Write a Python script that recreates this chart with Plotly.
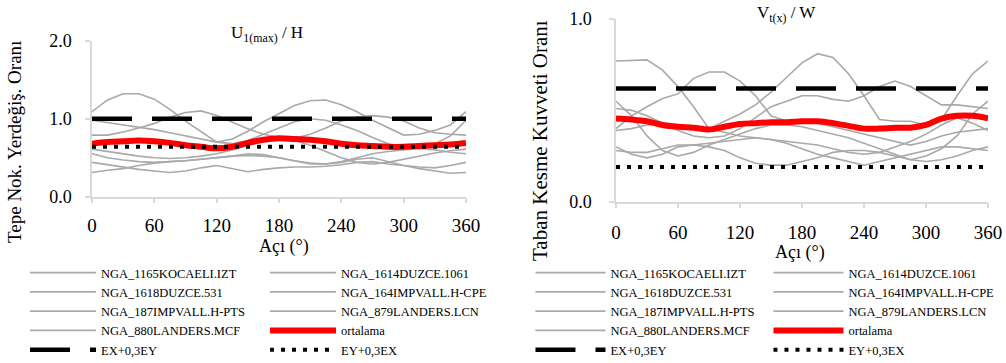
import plotly.graph_objects as go

W, H = 1006, 363
ML = 40  # left margin (px)
GW = W - ML

def px(x):
    return (x - ML) / GW

def py(y):
    return 1 - y / H

# ---------------- data ----------------
angles = [0, 15, 30, 45, 60, 75, 90, 105, 120, 135, 150, 165, 180,
          195, 210, 225, 240, 255, 270, 285, 300, 315, 330, 345, 360]

record_names = ["NGA_1165KOCAELI.IZT", "NGA_1614DUZCE.1061", "NGA_1618DUZCE.531",
                "NGA_164IMPVALL.H-CPE", "NGA_187IMPVALL.H-PTS", "NGA_879LANDERS.LCN",
                "NGA_880LANDERS.MCF"]

# Left panel: U1(max)/H
u_1165 = [1.09, 1.24, 1.32, 1.32, 1.25, 1.12, 0.97, 0.83, 0.70, 0.74, 0.84, 0.96, 1.07,
          1.17, 1.23, 1.24, 1.18, 1.09, 0.98, 0.88, 0.79, 0.80, 0.85, 0.92, 1.09]
u_1614 = [0.79, 0.79, 0.83, 0.88, 0.94, 1.02, 1.08, 1.10, 1.04, 0.95, 0.87, 0.80, 0.76,
          0.75, 0.80, 0.88, 0.97, 1.02, 1.04, 1.02, 0.97, 0.88, 0.82, 0.80, 0.79]
u_1618 = [0.61, 0.58, 0.55, 0.52, 0.50, 0.49, 0.50, 0.52, 0.55, 0.60, 0.66, 0.72, 0.75,
          0.72, 0.66, 0.58, 0.50, 0.44, 0.42, 0.44, 0.48, 0.52, 0.56, 0.59, 0.61]
u_164 = [0.55, 0.50, 0.47, 0.45, 0.44, 0.45, 0.46, 0.48, 0.50, 0.52, 0.53, 0.52, 0.50,
         0.46, 0.42, 0.42, 0.45, 0.50, 0.55, 0.58, 0.60, 0.62, 0.60, 0.57, 0.55]
u_187 = [0.44, 0.41, 0.38, 0.35, 0.33, 0.31, 0.33, 0.37, 0.40, 0.36, 0.32, 0.35, 0.37,
         0.38, 0.38, 0.39, 0.41, 0.44, 0.45, 0.42, 0.40, 0.38, 0.37, 0.40, 0.44]
u_879 = [0.31, 0.34, 0.36, 0.40, 0.43, 0.45, 0.46, 0.48, 0.50, 0.52, 0.55, 0.54, 0.50,
         0.46, 0.43, 0.42, 0.44, 0.48, 0.50, 0.45, 0.40, 0.36, 0.33, 0.30, 0.31]
u_880 = [0.98, 0.95, 0.92, 0.89, 0.86, 0.82, 0.78, 0.74, 0.70, 0.68, 0.72, 0.80, 0.88,
         0.96, 1.00, 0.98, 0.92, 0.85, 0.76, 0.68, 0.62, 0.63, 0.68, 0.78, 0.98]
u_mean = [0.68, 0.70, 0.71, 0.72, 0.71, 0.69, 0.66, 0.64, 0.62, 0.64, 0.69, 0.73, 0.75,
          0.74, 0.73, 0.71, 0.68, 0.66, 0.65, 0.64, 0.64, 0.65, 0.66, 0.67, 0.69]
u_ex = 1.0
u_ey = 0.64

# Right panel: Vt(x)/W
v_1165 = [0.77, 0.775, 0.776, 0.72, 0.63, 0.52, 0.40, 0.44, 0.48, 0.53, 0.60, 0.68, 0.76,
          0.81, 0.79, 0.70, 0.58, 0.45, 0.44, 0.44, 0.42, 0.45, 0.58, 0.70, 0.77]
v_1614 = [0.40, 0.47, 0.52, 0.565, 0.59, 0.675, 0.71, 0.71, 0.66, 0.58, 0.47, 0.44, 0.44,
          0.43, 0.41, 0.39, 0.37, 0.35, 0.33, 0.31, 0.33, 0.36, 0.38, 0.39, 0.40]
v_1618 = [0.55, 0.47, 0.36, 0.28, 0.25, 0.27, 0.31, 0.34, 0.37, 0.40, 0.42, 0.42, 0.41,
          0.39, 0.37, 0.35, 0.32, 0.29, 0.26, 0.23, 0.25, 0.29, 0.36, 0.48, 0.55]
v_164 = [0.51, 0.50, 0.47, 0.43, 0.39, 0.36, 0.35, 0.36, 0.40, 0.46, 0.52, 0.55, 0.58,
         0.58, 0.56, 0.55, 0.58, 0.63, 0.66, 0.63, 0.58, 0.53, 0.53, 0.52, 0.51]
v_187 = [0.39, 0.40, 0.42, 0.43, 0.42, 0.41, 0.40, 0.38, 0.36, 0.35, 0.34, 0.33, 0.32,
         0.31, 0.29, 0.27, 0.26, 0.27, 0.30, 0.33, 0.37, 0.42, 0.46, 0.43, 0.39]
v_879 = [0.30, 0.26, 0.24, 0.26, 0.30, 0.31, 0.30, 0.28, 0.24, 0.21, 0.20, 0.20, 0.22,
         0.24, 0.27, 0.28, 0.28, 0.27, 0.25, 0.23, 0.22, 0.23, 0.25, 0.28, 0.30]
v_880 = [0.28, 0.27, 0.27, 0.29, 0.31, 0.31, 0.32, 0.33, 0.34, 0.35, 0.34, 0.32, 0.29,
         0.26, 0.24, 0.22, 0.20, 0.22, 0.24, 0.26, 0.28, 0.30, 0.30, 0.29, 0.28]
v_mean = [0.456, 0.45, 0.44, 0.42, 0.41, 0.405, 0.395, 0.41, 0.425, 0.43, 0.435, 0.435, 0.44,
          0.44, 0.43, 0.415, 0.40, 0.40, 0.405, 0.405, 0.42, 0.455, 0.47, 0.47, 0.456]
v_ex = 0.62
v_ey = 0.19

mean_name = "ortalama"
ex_name = "EX+0,3EY"
ey_name = "EY+0,3EX"
limit_x = [0, 360]

# ---------------- figure ----------------
SERIF = "Liberation Serif, Times New Roman, serif"
GREY = "#a9a9a9"
fig = go.Figure()

def add_panel(xa, ya, leg, series, mean, ex, ey):
    for name, vals in zip(record_names, series):
        fig.add_trace(go.Scatter(x=angles, y=vals, name=name, mode="lines",
                                 line=dict(color=GREY, width=1.6),
                                 xaxis=xa, yaxis=ya, legend=leg, hoverinfo="skip"))
    fig.add_trace(go.Scatter(x=angles, y=mean, name=mean_name, mode="lines",
                             line=dict(color="#ff0000", width=6, shape="spline"),
                             xaxis=xa, yaxis=ya, legend=leg))
    fig.add_trace(go.Scatter(x=limit_x, y=[ex, ex], name=ex_name, mode="lines",
                             line=dict(color="#000000", width=4.5, dash="40px,20px"),
                             xaxis=xa, yaxis=ya, legend=leg))
    fig.add_trace(go.Scatter(x=limit_x, y=[ey, ey], name=ey_name, mode="lines",
                             line=dict(color="#000000", width=4, dash="4px,7px"),
                             xaxis=xa, yaxis=ya, legend=leg))

add_panel("x", "y", "legend",
          [u_1165, u_1614, u_1618, u_164, u_187, u_879, u_880], u_mean, u_ex, u_ey)
add_panel("x2", "y2", "legend2",
          [v_1165, v_1614, v_1618, v_164, v_187, v_879, v_880], v_mean, v_ex, v_ey)

axis_common = dict(showgrid=False, zeroline=False, showline=True, linecolor="#d9d9d9",
                   linewidth=1.5, ticks="outside", tickcolor="#d9d9d9", ticklen=5,
                   tickwidth=1.5)
xfont = dict(family=SERIF, size=19, color="#000")
yfont = dict(family=SERIF, size=18, color="#000")
xticks = [0, 60, 120, 180, 240, 300, 360]

fig.update_layout(
    width=W, height=H,
    margin=dict(l=ML, r=0, t=0, b=0, autoexpand=False),
    paper_bgcolor="white", plot_bgcolor="white",
    xaxis=dict(domain=[px(92), px(466)], range=[0, 360], tickvals=xticks,
               anchor="y", tickfont=xfont, ticklabelstandoff=6, **axis_common),
    yaxis=dict(domain=[py(196.7), py(40.7)], range=[0, 2], tickvals=[0, 1, 2], tickformat=".1f",
               anchor="x", tickfont=yfont, ticklabelstandoff=10, **axis_common),
    xaxis2=dict(domain=[px(616), px(988)], range=[0, 360], tickvals=xticks,
                anchor="y2", tickfont=xfont, ticklabelstandoff=8, **axis_common),
    yaxis2=dict(domain=[py(201.7), py(19)], range=[0, 1], tickvals=[0, 1], tickformat=".1f",
                anchor="x2", tickfont=yfont, ticklabelstandoff=14, **axis_common),
    legend=dict(orientation="h", x=px(25), xanchor="left", y=py(258), yanchor="top",
                itemwidth=66, entrywidth=159, entrywidthmode="pixels",
                font=dict(family=SERIF, size=12.5, color="#000"),
                bgcolor="rgba(0,0,0,0)", tracegroupgap=0),
    legend2=dict(orientation="h", x=1.0005, xanchor="right", y=py(258), yanchor="top",
                 itemwidth=70, entrywidth=153, entrywidthmode="pixels",
                 font=dict(family=SERIF, size=12.5, color="#000"),
                 bgcolor="rgba(0,0,0,0)", tracegroupgap=0),
    showlegend=True,
)

ann_font = dict(family=SERIF, color="#000")
annotations = [
    dict(text="U<sub>1(max)</sub> / H", x=px(267), y=py(34), font=dict(size=17, **ann_font)),
    dict(text="V<sub>t(x)</sub> / W", x=px(786), y=py(14), font=dict(size=17, **ann_font)),
    dict(text="Açı (°)", x=px(284), y=py(246), font=dict(size=18, **ann_font)),
    dict(text="Açı (°)", x=px(800), y=py(252), font=dict(size=18, **ann_font)),
    dict(text="Tepe Nok. Yerdeğiş. Oranı", x=px(15), y=py(142), textangle=-90,
         font=dict(size=19, **ann_font)),
    dict(text="Taban Kesme Kuvveti Oranı", x=px(540), y=py(141), textangle=-90,
         font=dict(size=21, **ann_font)),
]
for a in annotations:
    a.update(xref="paper", yref="paper", showarrow=False, xanchor="center", yanchor="middle")
fig.update_layout(annotations=annotations)

fig.write_html("out.html", config={"displayModeBar": False},
               post_script="document.body.style.margin='0px';")
